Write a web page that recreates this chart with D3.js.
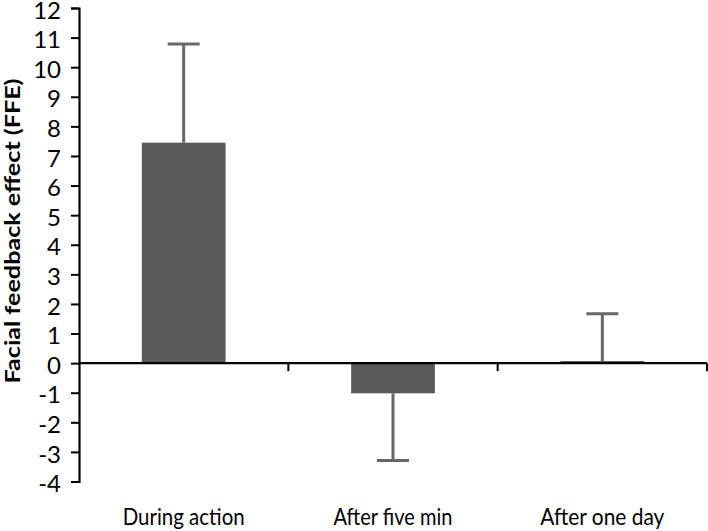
<!DOCTYPE html>
<html><head><meta charset="utf-8">
<script src="https://cdn.jsdelivr.net/npm/d3@7"></script>
<style>body{margin:0;background:#fff}svg{display:block}</style>
</head><body>
<script>
const categories = ["During action", "After five min", "After one day"];
const values = [7.45, -1.02, 0.07];
const errors = [3.33, 2.27, 1.6];
const yTicks = [-4,-3,-2,-1,0,1,2,3,4,5,6,7,8,9,10,11,12];
const yTitle = "Facial feedback effect (FFE)";

const W = 708, H = 531;
const svg = d3.select("body").append("svg").attr("width", W).attr("height", H);
const x = d3.scaleBand().domain(categories).range([79, 707]).paddingInner(0.6).paddingOuter(0.3);
const y = d3.scaleLinear().domain([-4, 12]).range([481.5, 8]);
const font = "Lato, 'Open Sans', sans-serif";

// bars
svg.selectAll("rect.bar").data(categories).join("rect")
  .attr("x", d => x(d)).attr("width", x.bandwidth())
  .attr("y", (d,i) => y(Math.max(0, values[i])))
  .attr("height", (d,i) => Math.abs(y(values[i]) - y(0)))
  .attr("fill", "#595959");

// error bars
const cap = 32;
categories.forEach((c, i) => {
  const cx = x(c) + x.bandwidth()/2;
  const end = values[i] >= 0 ? values[i] + errors[i] : values[i] - errors[i];
  svg.append("line").attr("x1", cx).attr("x2", cx).attr("y1", y(values[i])).attr("y2", y(end))
    .attr("stroke", "#676767").attr("stroke-width", 3);
  svg.append("line").attr("x1", cx - cap/2).attr("x2", cx + cap/2).attr("y1", y(end)).attr("y2", y(end))
    .attr("stroke", "#676767").attr("stroke-width", 3);
});

// y axis
const yAxis = svg.append("g").attr("transform", "translate(79,0)")
  .call(d3.axisLeft(y).tickValues(yTicks).tickSize(8).tickPadding(10).tickFormat(d3.format("d")));
yAxis.select(".domain").attr("stroke", "#000").attr("stroke-width", 2.2);
yAxis.selectAll(".tick line").attr("stroke", "#000").attr("stroke-width", 2);
yAxis.selectAll(".tick text").attr("font-family", font).attr("font-size", 24).attr("fill", "#000")
  .attr("dy", "0.42em")
  .text(d => d < 0 ? "-" + Math.abs(d) : d);

// x axis at zero
svg.append("line").attr("x1", 79).attr("x2", 707).attr("y1", y(0)).attr("y2", y(0))
  .attr("stroke", "#000").attr("stroke-width", 2.2);
const edgeVals = categories.map(c => x(c) - x.step()*x.paddingInner()/2).concat([x(categories[2]) + x.bandwidth() + x.step()*x.paddingInner()/2]);
svg.selectAll("line.xt").data(edgeVals.slice(1)).join("line")
  .attr("x1", d => d).attr("x2", d => d).attr("y1", y(0)).attr("y2", y(0) + 8)
  .attr("stroke", "#000").attr("stroke-width", 2);

// category labels
const labelW = [122, 119, 124];
svg.selectAll("text.cat").data(categories).join("text")
  .attr("x", (d) => x(d) + x.bandwidth()/2).attr("y", 525)
  .attr("text-anchor", "middle").attr("font-family", font).attr("font-size", 24)
  .attr("textLength", (d,i) => labelW[i]).attr("lengthAdjust", "spacingAndGlyphs")
  .attr("fill", "#000").text(d => d);

// y title
svg.append("text").attr("transform", "translate(20,231) rotate(-90)")
  .attr("text-anchor", "middle").attr("font-family", font).attr("font-size", 21)
  .attr("font-weight", "bold").attr("textLength", 305).attr("lengthAdjust", "spacingAndGlyphs")
  .attr("fill", "#000").text(yTitle);
</script>
</body></html>
